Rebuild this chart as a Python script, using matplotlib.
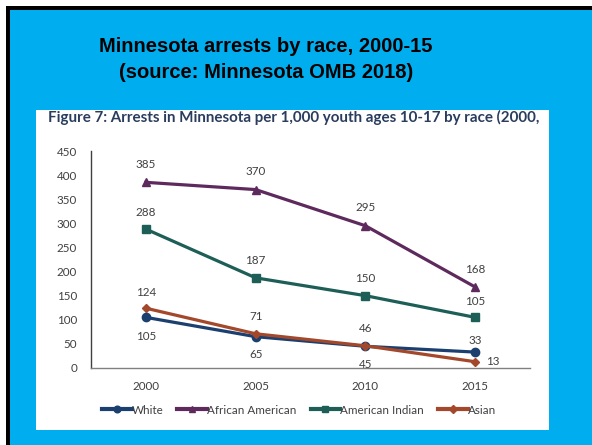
import matplotlib
matplotlib.use("Agg")
import matplotlib.pyplot as plt
from matplotlib.patches import Rectangle
from matplotlib.lines import Line2D

# arrests per 1,000 youth ages 10-17
years = ["2000", "2005", "2010", "2015"]
white = [105, 65, 45, 33]
african_american = [385, 370, 295, 168]
american_indian = [288, 187, 150, 105]
asian = [124, 71, 46, 13]

W, H = 592, 445
fig = plt.figure(figsize=(W / 100, H / 100), dpi=100, facecolor="white")


def box(x0, y0, x1, y1):
    # pixel box (top-left origin) -> figure fraction rect
    return (x0 / W, 1 - y1 / H), (x1 - x0) / W, (y1 - y0) / H


def add_rect(x0, y0, x1, y1, color):
    xy, w, h = box(x0, y0, x1, y1)
    fig.add_artist(Rectangle(xy, w, h, transform=fig.transFigure,
                             facecolor=color, edgecolor="none", zorder=0))


# slide background
add_rect(6, 6, W, H, "#00AEEF")
add_rect(6, 6, W, 10, "black")
add_rect(6, 6, 10, H, "black")
add_rect(36, 110, 549, 430, "white")

fig.text(266 / W, 1 - 47 / H, "Minnesota arrests by race, 2000-15",
         ha="center", va="center", fontsize=14.5, fontweight="bold",
         family="Liberation Sans", color="black")
fig.text(266 / W, 1 - 73 / H, "(source: Minnesota OMB 2018)",
         ha="center", va="center", fontsize=14.5, fontweight="bold",
         family="Liberation Sans", color="black")

fig.text(48 / W, 1 - 117 / H,
         "Figure 7: Arrests in Minnesota per 1,000 youth ages 10-17 by race (2000,",
         ha="left", va="center", fontsize=10.9, fontweight="bold",
         family="Lato", color="#2A3D5E")

# chart area
ax_l, ax_r, ax_t, ax_b = 91, 530, 151, 368
ax = fig.add_axes([ax_l / W, 1 - ax_b / H, (ax_r - ax_l) / W, (ax_b - ax_t) / H])
ax.set_facecolor("none")
x = list(range(len(years)))

series = [
    ("White", white, "#1B3F6E", "o", 6),
    ("African American", african_american, "#5E2A5E", "^", 6),
    ("American Indian", american_indian, "#1D5F57", "s", 6),
    ("Asian", asian, "#A3482A", "D", 4.5),
]
for name, vals, col, mk, ms in series:
    ax.plot(x, vals, color=col, lw=2.3, marker=mk, ms=ms, label=name, zorder=3)

# value labels: pixel offsets per series
offsets = {
    "White": [(0, -19), (0, -18), (0, -18), (0, 12)],
    "African American": [(0, 18), (0, 18), (0, 18), (0, 17)],
    "American Indian": [(0, 17), (0, 17), (0, 17), (0, 16)],
    "Asian": [(0, 16), (0, 17), (0, 17), (18, 0)],
}
for name, vals, col, mk, ms in series:
    for i, v in enumerate(vals):
        dx, dy = offsets[name][i]
        ax.annotate(str(v), (i, v), xytext=(dx, dy), textcoords="offset pixels",
                    ha="center", va="center", fontsize=8.4, family="Lato",
                    color="#404040")

ax.set_xlim(-0.5, 3.5)
ax.set_ylim(0, 450)
ax.set_yticks(range(0, 451, 50))
ax.set_xticks(x)
ax.set_xticklabels(years)
ax.tick_params(length=0, labelsize=8.4, labelcolor="#404040")
ax.tick_params(axis="y", pad=10)
ax.tick_params(axis="x", pad=9)
for lab in ax.get_xticklabels() + ax.get_yticklabels():
    lab.set_family("Lato")
for s in ["top", "right"]:
    ax.spines[s].set_visible(False)
ax.spines["left"].set_color("#404040")
ax.spines["bottom"].set_color("#808080")
ax.spines["left"].set_linewidth(1)
ax.spines["bottom"].set_linewidth(1)

handles = [Line2D([], [], color=c, lw=3, marker=m, ms=s * 0.8) for _, _, c, m, s in series]
leg = fig.legend(handles, [n for n, *_ in series], loc="center",
                 bbox_to_anchor=(299 / W, 1 - 410 / H), ncol=4, frameon=False,
                 handlelength=2.55, handletextpad=0.0, columnspacing=1.2,
                 prop={"family": "Lato", "size": 8.4})
for t in leg.get_texts():
    t.set_color("#404040")

fig.savefig("out.png", dpi=100, facecolor=fig.get_facecolor())
